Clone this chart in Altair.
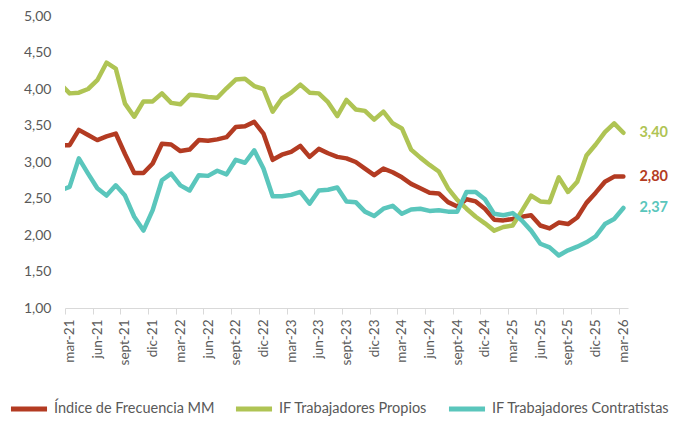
import altair as alt
import pandas as pd

# ---- categories (first entry feb-21 lies just outside the axis and is clipped) ----
month_abbr = ["ene", "feb", "mar", "abr", "may", "jun", "jul", "ago", "sept", "oct", "nov", "dic"]
months = []
for yr in range(21, 27):
    for m in month_abbr:
        months.append(f"{m}-{yr}")
months = months[1:months.index("mar-26") + 1]  # feb-21 .. mar-26
x_index = list(range(-1, len(months) - 1))

series_names = ["Índice de Frecuencia MM", "IF Trabajadores Propios", "IF Trabajadores Contratistas"]
line_colors = ["#B33B22", "#AFC454", "#5AC6BC"]

# ---- series values (feb-21, then mar-21 .. mar-26) ----
indice_mm = [3.23,
    3.23, 3.44, 3.37, 3.30, 3.35, 3.39, 3.11, 2.85, 2.85, 2.98, 3.25, 3.24, 3.15, 3.17, 3.30, 3.29,
    3.31, 3.34, 3.48, 3.49, 3.55, 3.39, 3.03, 3.10, 3.14, 3.22, 3.07, 3.18, 3.12, 3.07, 3.05,
    3.00, 2.91, 2.82, 2.91, 2.86, 2.79, 2.70, 2.64, 2.58, 2.57, 2.45, 2.39, 2.49, 2.46, 2.36,
    2.21, 2.20, 2.22, 2.25, 2.27, 2.13, 2.09, 2.17, 2.15, 2.24, 2.44, 2.58, 2.73, 2.80, 2.80]
propios = [4.07,
    3.94, 3.95, 4.00, 4.12, 4.36, 4.28, 3.80, 3.62, 3.83, 3.83, 3.94, 3.81, 3.79, 3.92, 3.91, 3.89,
    3.88, 4.01, 4.13, 4.14, 4.04, 4.00, 3.69, 3.87, 3.95, 4.06, 3.95, 3.94, 3.82, 3.63, 3.85,
    3.72, 3.70, 3.58, 3.69, 3.53, 3.46, 3.17, 3.06, 2.96, 2.87, 2.64, 2.48, 2.36, 2.25, 2.16,
    2.06, 2.11, 2.13, 2.33, 2.54, 2.46, 2.45, 2.79, 2.59, 2.73, 3.09, 3.24, 3.41, 3.53, 3.40]
contratistas = [2.61,
    2.66, 3.05, 2.84, 2.64, 2.54, 2.68, 2.54, 2.25, 2.06, 2.34, 2.75, 2.84, 2.68, 2.61, 2.82, 2.81,
    2.88, 2.83, 3.03, 2.99, 3.16, 2.91, 2.53, 2.53, 2.55, 2.59, 2.43, 2.61, 2.62, 2.65, 2.46,
    2.45, 2.32, 2.26, 2.36, 2.40, 2.29, 2.35, 2.36, 2.33, 2.34, 2.32, 2.32, 2.59, 2.59, 2.49,
    2.29, 2.27, 2.30, 2.20, 2.06, 1.88, 1.83, 1.72, 1.79, 1.84, 1.90, 1.98, 2.15, 2.22, 2.37]

y_ticks = [1.0, 1.5, 2.0, 2.5, 3.0, 3.5, 4.0, 4.5, 5.0]
tick_labels = months[1::3]  # mar-21, jun-21, ... mar-26

rows = []
for name, vals in zip(series_names, [indice_mm, propios, contratistas]):
    for i, m, v in zip(x_index, months, vals):
        rows.append({"i": i, "mes": m, "serie": name, "valor": v})
df = pd.DataFrame(rows)

last_i = x_index[-1]
end_df = pd.DataFrame({
    "i": [last_i] * 3,
    "serie": series_names,
    "valor": [indice_mm[-1], propios[-1], contratistas[-1]],
})
end_df["txt"] = [f"{v:.2f}".replace(".", ",") for v in end_df["valor"]]

FONT = "Lato"
GRAY = "#595959"

x_tick_vals = [k - 0.5 for k in range(0, last_i + 1, 3)]
label_expr = "[" + ",".join(f"'{t}'" for t in tick_labels) + "][round((datum.value + 0.5) / 3)]"

x_axis = alt.Axis(values=x_tick_vals, labelExpr=label_expr, labelAngle=270,
                  labelAlign="right", labelBaseline="middle", labelOffset=4.6,
                  tickSize=6, labelPadding=5, domainColor="#D9D9D9", tickColor="#D9D9D9",
                  domainWidth=1, grid=False, title=None, labelFont=FONT, labelFontSize=13.5,
                  labelColor=GRAY, labelOverlap=False, labelBound=False, labelFlush=False)
y_axis = alt.Axis(values=y_ticks, labelExpr="replace(format(datum.value, '.2f'), '.', ',')",
                  domain=False, ticks=False, grid=False, labelPadding=14, title=None,
                  labelFont=FONT, labelFontSize=14, labelColor=GRAY, labelOverlap=False,
                  labelFlush=False)
x_scale = alt.Scale(domain=[-0.5, last_i + 0.5], nice=False, zero=False)
y_scale = alt.Scale(domain=[1, 5], nice=False, zero=False)

color_scale = alt.Scale(domain=series_names, range=line_colors)

lines = alt.Chart(df).mark_line(clip=True, strokeWidth=4.5, strokeCap="round", strokeJoin="round").encode(
    x=alt.X("i:Q", scale=x_scale, axis=x_axis),
    y=alt.Y("valor:Q", scale=y_scale, axis=y_axis),
    color=alt.Color("serie:N", scale=color_scale, sort=series_names,
                    legend=alt.Legend(title=None, orient="none", legendX=-57, legendY=372,
                                      direction="horizontal", symbolType="stroke",
                                      symbolSize=1300, symbolStrokeWidth=5, labelFont=FONT,
                                      labelFontSize=14.5, labelColor=GRAY, columnPadding=10,
                                      labelOffset=4, labelLimit=0)),
)

labels = alt.Chart(end_df).mark_text(align="left", baseline="middle", dx=16, fontWeight="bold",
                                     fontSize=14.5, font=FONT).encode(
    x=alt.X("i:Q", scale=x_scale, axis=x_axis),
    y=alt.Y("valor:Q", scale=y_scale, axis=y_axis),
    text="txt:N",
    color=alt.Color("serie:N", scale=color_scale, legend=None),
)

chart = alt.layer(lines, labels).properties(
    width=563, height=292,
    padding={"left": 57, "top": 8, "right": 46, "bottom": 110},
    autosize=alt.AutoSizeParams(type="none"),
).configure_view(stroke=None)

chart.save("out.html", embed_options={"renderer": "svg", "actions": False})
